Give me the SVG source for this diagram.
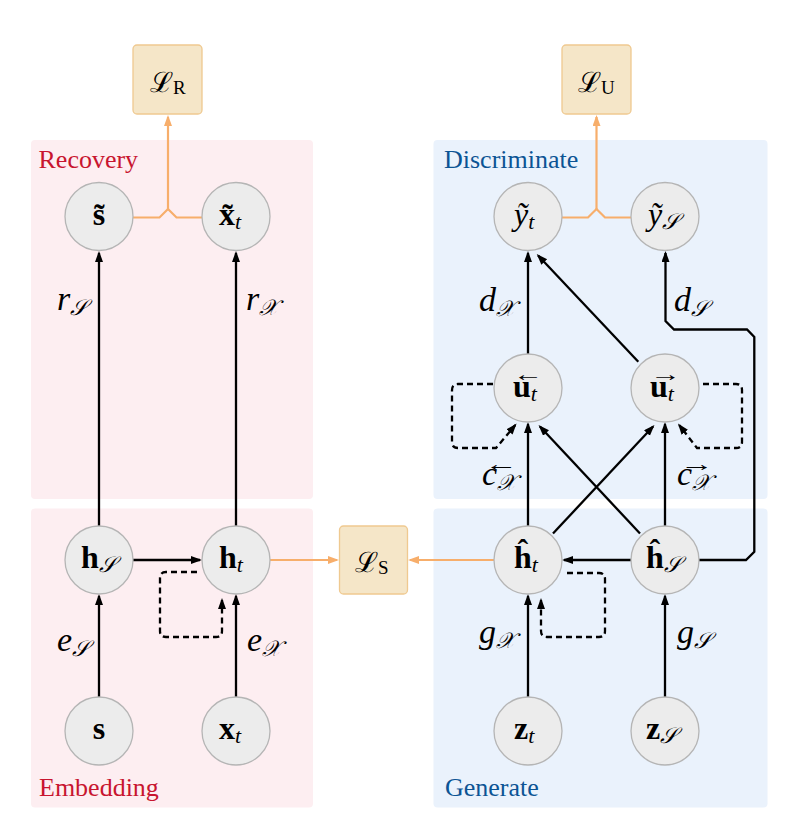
<svg xmlns="http://www.w3.org/2000/svg" width="789" height="822" viewBox="0 0 789 822">
<style>
.pr{fill:#fdeef1}
.pb{fill:#eaf2fc}
.node circle{fill:#ececec;stroke:#b5b5b5;stroke-width:1.3}
.loss rect{fill:#f5e6c8;stroke:#efc990;stroke-width:1.3}
.e{fill:none;stroke:#000;stroke-width:2.3}
.d{stroke-dasharray:6 4}
.o{fill:none;stroke:#f7ae6b;stroke-width:2.2}
.m{font-family:"Liberation Serif","Times New Roman",serif;fill:#000}
.b{font-weight:bold}
.i{font-style:italic}
.n{font-size:32px}
.el{font-size:34px}
.s{font-size:22px}
.ttl{font-family:"Liberation Serif","Times New Roman",serif;font-size:26px}
.red{fill:#c8152f}
.blue{fill:#0c5494}
</style>
<defs>
<marker id="ab" markerUnits="userSpaceOnUse" markerWidth="12" markerHeight="10" refX="9" refY="4" orient="auto"><path d="M0,0 L11,4 L0,8 z" fill="#000"/></marker>
<marker id="ao" markerUnits="userSpaceOnUse" markerWidth="12" markerHeight="10" refX="9" refY="4" orient="auto"><path d="M0,0 L11,4 L0,8 z" fill="#f7ae6b"/></marker>
</defs>

<g id="panels">
<rect class="pr" x="31" y="140" width="282" height="359" rx="4"/>
<rect class="pr" x="31" y="508.5" width="282" height="299" rx="4"/>
<rect class="pb" x="433.5" y="140" width="334" height="359" rx="4"/>
<rect class="pb" x="433.5" y="508.5" width="334" height="299" rx="4"/>
<text class="ttl red" x="38.5" y="167.5">Recovery</text>
<text class="ttl red" x="39" y="796">Embedding</text>
<text class="ttl blue" x="444" y="167.5">Discriminate</text>
<text class="ttl blue" x="445" y="796">Generate</text>
</g>

<g id="connectors">
<path class="e" d="M99,697 V596" marker-end="url(#ab)"/>
<path class="e" d="M236,697 V596" marker-end="url(#ab)"/>
<path class="e" d="M133,560 H200" marker-end="url(#ab)"/>
<path class="e d" d="M197,572 H166 Q160,572 160,578 V631 Q160,637 166,637 H216 Q222,637 222,631 V600" marker-end="url(#ab)"/>
<path class="e" d="M99,526 V253" marker-end="url(#ab)"/>
<path class="e" d="M236,526 V253" marker-end="url(#ab)"/>
<path class="o" d="M133,217.5 H159.5 L168,209 L176.5,217.5 H202"/>
<path class="o" d="M168,209 V117" marker-end="url(#ao)"/>
<path class="o" d="M270,560 H337" marker-end="url(#ao)"/>
<path class="o" d="M494,560 H410" marker-end="url(#ao)"/>
<path class="e" d="M528,697 V596" marker-end="url(#ab)"/>
<path class="e" d="M665,697 V596" marker-end="url(#ab)"/>
<path class="e" d="M631,560 H564" marker-end="url(#ab)"/>
<path class="e d" d="M567,573 H599 Q605,573 605,579 V631 Q605,637 599,637 H547 Q541,637 541,631 V600" marker-end="url(#ab)"/>
<path class="e" d="M528,526 V424" marker-end="url(#ab)"/>
<path class="e" d="M665,526 V424" marker-end="url(#ab)"/>
<path class="e" d="M553,533.5 L653.1,426.5" marker-end="url(#ab)"/>
<path class="e" d="M640,533.5 L539.9,426.5" marker-end="url(#ab)"/>
<path class="e" d="M638.3,361.7 L538.1,255.5" marker-end="url(#ab)"/>
<path class="e" d="M528,354 V253" marker-end="url(#ab)"/>
<path class="e" d="M699,560 H746 L754.3,551.7 V337 L747,329.5 H674 L665.5,321 V253" marker-end="url(#ab)"/>
<path class="o" d="M562,217.5 H588 L596.5,209 L605,217.5 H631"/>
<path class="o" d="M596.5,209 V117" marker-end="url(#ao)"/>
<path class="e d" d="M493,384 H458 Q452,384 452,390 V442 Q452,448 458,448 H496 L515.3,425.1" marker-end="url(#ab)"/>
<path class="e d" d="M703,384 H736 Q742,384 742,390 V442 Q742,448 736,448 H697 L679.2,425.1" marker-end="url(#ab)"/>
<text class="m i el" x="57" y="310">r<tspan class="s" dy="5">𝒮</tspan></text>
<text class="m i el" x="246" y="310">r<tspan class="s" dy="5">𝒳</tspan></text>
<text class="m i el" x="57" y="651">e<tspan class="s" dy="5">𝒮</tspan></text>
<text class="m i el" x="247" y="651">e<tspan class="s" dy="5">𝒳</tspan></text>
<text class="m i el" x="479" y="311">d<tspan class="s" dy="5">𝒳</tspan></text>
<text class="m i el" x="674" y="311">d<tspan class="s" dy="5">𝒮</tspan></text>
<text class="m i el" x="479" y="643">g<tspan class="s" dy="5">𝒳</tspan></text>
<text class="m i el" x="677" y="643">g<tspan class="s" dy="5">𝒮</tspan></text>
<text class="m i el" x="482" y="485">c<tspan class="s" dy="5">𝒳</tspan><tspan x="485" y="471" font-size="22" font-style="normal" textLength="33" lengthAdjust="spacingAndGlyphs">←</tspan></text>
<text class="m i el" x="677" y="485">c<tspan class="s" dy="5">𝒳</tspan><tspan x="680" y="471" font-size="22" font-style="normal" textLength="34" lengthAdjust="spacingAndGlyphs">→</tspan></text>
</g>

<g id="L_R" class="loss"><rect x="133" y="45" width="69" height="69" rx="4"/><text class="m" font-size="28" x="150" y="92">ℒ<tspan font-size="19" dy="2">R</tspan></text></g>
<g id="L_U" class="loss"><rect x="562" y="45" width="69" height="69" rx="4"/><text class="m" font-size="28" x="578" y="92">ℒ<tspan font-size="19" dy="2">U</tspan></text></g>
<g id="L_S" class="loss"><rect x="339.5" y="526" width="68" height="68" rx="4"/><text class="m" font-size="28" x="355" y="572">ℒ<tspan font-size="19" dy="2">S</tspan></text></g>

<g id="s_tilde" class="node"><circle cx="99" cy="216.5" r="34"/><text class="m b n" x="99" y="225" text-anchor="middle">s&#x303;</text></g>
<g id="x_tilde" class="node"><circle cx="236" cy="216.5" r="34"/><text class="m b n" x="219" y="225">x&#x303;<tspan class="i s" font-weight="normal" dy="4">t</tspan></text></g>
<g id="h_S" class="node"><circle cx="99" cy="560" r="34"/><text class="m b n" x="81" y="568">h<tspan class="i s" font-weight="normal" dy="4">𝒮</tspan></text></g>
<g id="h_t" class="node"><circle cx="236" cy="560" r="34"/><text class="m b n" x="219" y="568">h<tspan class="i s" font-weight="normal" dy="4">t</tspan></text></g>
<g id="s" class="node"><circle cx="99" cy="731" r="34"/><text class="m b n" x="99" y="739" text-anchor="middle">s</text></g>
<g id="x_t" class="node"><circle cx="236" cy="731" r="34"/><text class="m b n" x="219" y="739">x<tspan class="i s" font-weight="normal" dy="4">t</tspan></text></g>
<g id="y_t" class="node"><circle cx="528" cy="216.5" r="34"/><text class="m i n" x="514" y="225">ỹ<tspan class="s" dy="4">t</tspan></text></g>
<g id="y_S" class="node"><circle cx="665" cy="216.5" r="34"/><text class="m i n" x="648" y="225">ỹ<tspan class="s" dy="4">𝒮</tspan></text></g>
<g id="u_back" class="node"><circle cx="528" cy="388" r="34"/><text class="m b n" x="513" y="397">u<tspan class="i s" font-weight="normal" dy="4">t</tspan><tspan x="513" y="381" font-size="20" font-weight="normal" textLength="30" lengthAdjust="spacingAndGlyphs">←</tspan></text></g>
<g id="u_fwd" class="node"><circle cx="665" cy="388" r="34"/><text class="m b n" x="650" y="397">u<tspan class="i s" font-weight="normal" dy="4">t</tspan><tspan x="650" y="381" font-size="20" font-weight="normal" textLength="31" lengthAdjust="spacingAndGlyphs">→</tspan></text></g>
<g id="hh_t" class="node"><circle cx="528" cy="560" r="34"/><text class="m b n" x="514" y="568">ĥ<tspan class="i s" font-weight="normal" dy="4">t</tspan></text></g>
<g id="hh_S" class="node"><circle cx="665" cy="560" r="34"/><text class="m b n" x="646" y="568">ĥ<tspan class="i s" font-weight="normal" dy="4">𝒮</tspan></text></g>
<g id="z_t" class="node"><circle cx="528" cy="731" r="34"/><text class="m b n" x="514" y="739">z<tspan class="i s" font-weight="normal" dy="4">t</tspan></text></g>
<g id="z_S" class="node"><circle cx="665" cy="731" r="34"/><text class="m b n" x="646" y="739">z<tspan class="i s" font-weight="normal" dy="4">𝒮</tspan></text></g>
</svg>
